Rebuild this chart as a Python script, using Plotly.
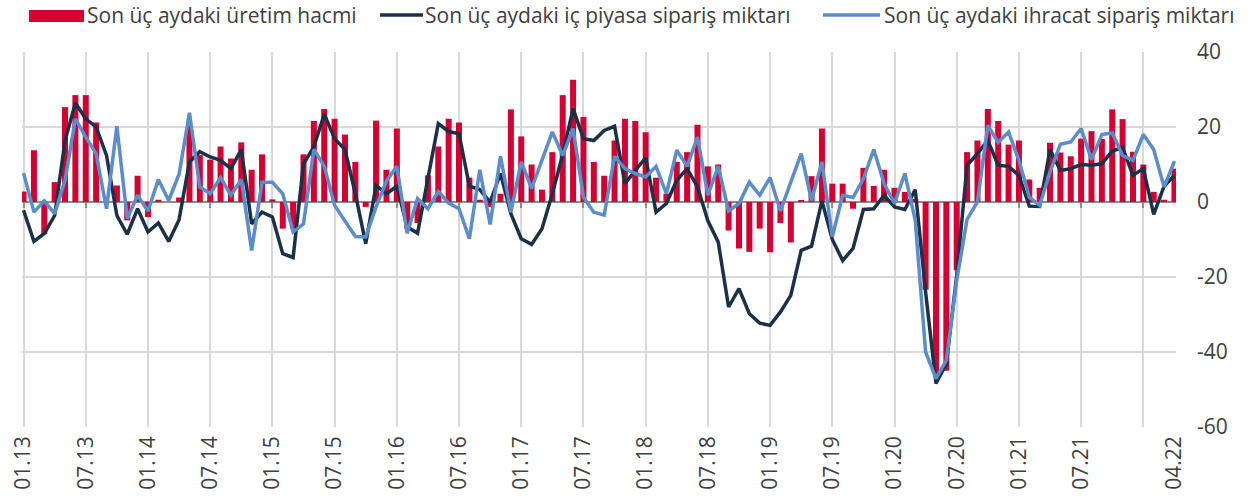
import plotly.graph_objects as go

# ---- data -------------------------------------------------------------
months = [f"{m:02d}.{y:02d}" for y in range(13, 23) for m in range(1, 13)][:112]

uretim = [2.8, 13.8, -8.6, 5.3, 25.3, 28.5, 28.5, 21.2, 0.0, 4.4, -4.9, 7.0,
          -4.0, 0.6, 0.0, 1.2, 20.4, 12.5, 11.3, 14.8, 11.6, 15.9, 8.6, 12.7,
          0.7, -7.1, -7.1, 12.7, 21.6, 24.8, 22.2, 18.0, 10.7, -1.3, 21.7, 8.6,
          19.6, -7.1, -5.6, 7.1, 14.8, 22.2, 21.2, 6.5, 0.6, -1.3, 2.2, 24.7,
          17.5, 10.0, 3.3, 13.3, 28.5, 32.6, 22.7, 10.7, 7.0, 16.4, 22.2, 21.6,
          18.6, 6.5, 2.2, 10.7, 13.3, 20.6, 9.5, 10.0, -7.6, -12.4, -13.3, -7.1,
          -13.4, -5.6, -10.8, 0.3, 6.9, 19.6, 4.9, 4.9, -1.8, 9.1, 4.3, 8.6,
          3.8, 2.7, 0.8, -23.4, -45.8, -45.0, -18.2, 13.3, 16.4, 24.8, 21.6, 15.3,
          16.4, 6.0, 3.8, 15.8, 13.2, 12.2, 16.9, 18.9, 16.8, 24.7, 22.1, 13.4,
          10.0, 2.7, 0.6, 8.9]

ic_piyasa = [-2.2, -10.5, -8.4, -3.6, 16.4, 26.4, 22.2, 20.0, 12.4, -3.6, -8.6, -1.8,
             -8.0, -5.6, -10.5, -4.7, 10.7, 13.4, 12.0, 11.1, 8.9, 14.0, -5.8, -2.7,
             -4.0, -13.8, -14.8, 10.2, 14.7, 23.4, 16.9, 14.0, 2.2, -11.1, 4.4, 2.2,
             4.2, -6.7, -8.3, 6.7, 20.9, 18.8, 18.2, 4.2, 3.3, 0.0, 7.6, -3.1,
             -9.8, -11.3, -7.1, 2.2, 12.7, 24.9, 16.9, 16.4, 19.1, 20.2, 4.9, 8.4,
             11.8, -2.7, -0.4, 5.8, 8.9, 4.0, -5.0, -10.7, -28.0, -23.1, -29.8, -32.3,
             -32.9, -29.3, -24.9, -12.9, -11.8, 0.3, -10.0, -15.6, -12.4, -2.0, -1.8, 1.8,
             -1.3, -2.0, 3.3, -24.0, -48.4, -43.1, -19.6, 9.8, 12.9, 16.4, 9.8, 9.5,
             7.1, -1.1, -1.2, 14.0, 8.4, 8.9, 10.0, 9.8, 10.2, 13.6, 14.5, 7.1,
             8.9, -3.3, 4.2, 7.1]

ihracat = [7.7, -2.7, 0.3, -3.1, 5.8, 22.2, 17.3, 12.9, -1.8, 20.2, -4.4, 1.8,
           -2.4, 6.0, 0.4, 7.4, 23.8, 4.0, 2.2, 6.5, 1.8, 6.0, -12.9, 5.3,
           5.3, 2.2, -8.0, -5.8, 14.0, 9.5, -0.9, -4.9, -9.2, -9.3, -1.3, 5.6,
           9.5, -8.3, 0.9, -1.8, 2.8, -0.3, -1.8, -9.8, 8.6, -6.0, 12.2, -2.7,
           10.7, 3.6, 11.1, 18.7, 12.4, 19.6, 1.3, -2.7, -3.5, 12.2, 8.9, 7.6,
           6.7, 9.5, 2.2, 13.8, 9.5, 17.3, 1.8, 9.5, -2.4, -0.4, 5.3, 1.8,
           6.5, -2.4, 5.3, 12.9, 0.4, 10.7, -9.3, 1.8, 1.2, 6.2, 14.0, 4.9,
           -0.4, 7.6, -4.9, -40.0, -47.1, -42.2, -20.9, -4.6, 0.0, 20.4, 15.9, 18.7,
           11.1, 1.3, -0.9, 8.0, 15.4, 16.0, 19.6, 11.3, 18.0, 18.4, 12.4, 11.1,
           18.0, 14.0, 4.0, 10.9]

tick_labels = ["01.13", "07.13", "01.14", "07.14", "01.15", "07.15", "01.16", "07.16",
               "01.17", "07.17", "01.18", "07.18", "01.19", "07.19", "01.20", "07.20",
               "01.21", "07.21", "04.22"]
grid_months = ["01.13", "07.13", "01.14", "07.14", "01.15", "07.15", "01.16", "07.16",
               "01.17", "07.17", "01.18", "07.18", "01.19", "07.19", "01.20", "07.20",
               "01.21", "07.21", "01.22"]
y_ticks = [-60, -40, -20, 0, 20, 40]

names = ["Son üç aydaki üretim hacmi",
         "Son üç aydaki iç piyasa sipariş miktarı",
         "Son üç aydaki ihracat sipariş miktarı"]

RED = "#D50032"
NAVY = "#1C3148"
BLUE = "#5B8CCB"
GRID = "#D9D9D9"
AXIS = "#8C8C8C"
TXT = "#404040"
FONT = "Open Sans"
FS = 21

# ---- figure -----------------------------------------------------------
fig = go.Figure()
fig.add_trace(go.Bar(x=months, y=uretim, name=names[0], marker_color=RED,
                     marker_line_width=0, showlegend=False))
fig.add_trace(go.Scatter(x=months, y=ic_piyasa, name=names[1], mode="lines",
                         line=dict(color=NAVY, width=3.5), showlegend=False))
fig.add_trace(go.Scatter(x=months, y=ihracat, name=names[2], mode="lines",
                         line=dict(color=BLUE, width=3.5), showlegend=False))
# helper trace so the overlay axis (grid + zero axis) is rendered
fig.add_trace(go.Scatter(x=[months.index(m) for m in grid_months],
                         y=[None] * len(grid_months), xaxis="x2",
                         showlegend=False, hoverinfo="skip"))

xr = [-0.15, len(months) - 1 + 0.15]
fig.update_layout(
    width=1258, height=504, autosize=False,
    margin=dict(l=22, r=82, t=52, b=77, autoexpand=False),
    paper_bgcolor="white", plot_bgcolor="white",
    font=dict(family=FONT, size=FS, color=TXT),
    bargap=0.42,
    xaxis=dict(type="category", range=xr, tickmode="array", automargin=False,
               tickvals=tick_labels, ticktext=tick_labels, tickangle=-90,
               showgrid=False, zeroline=False, showline=False, ticks="",
               ticklabelstandoff=4,
               tickfont=dict(family=FONT, size=FS, color=TXT)),
    xaxis2=dict(overlaying="x", anchor="free", position=0.6, type="linear",
                range=xr, tickmode="array", automargin=False,
                tickvals=[months.index(m) for m in grid_months],
                showgrid=True, gridcolor=GRID, gridwidth=1.5,
                showline=True, linecolor=AXIS, linewidth=1.5,
                ticks="outside", ticklen=5, tickwidth=1.5, tickcolor=AXIS,
                showticklabels=False, zeroline=False, layer="below traces"),
    yaxis=dict(side="right", range=[-60, 40], tickmode="array", tickvals=y_ticks,
               ticktext=[str(v) for v in y_ticks], automargin=False,
               showgrid=True, gridcolor=GRID, gridwidth=1.5, zeroline=False,
               ticks="", ticklabelstandoff=20,
               tickfont=dict(family=FONT, size=FS, color=TXT)),
)

# ---- legend (custom, top row) ----------------------------------------
leg_keys = [("rect", RED, 7, 62), ("line", NAVY, 358, 401), ("line", BLUE, 801, 858)]
leg_text_x = [64, 402, 861]
for (kind, col, x0, x1), name, tx in zip(leg_keys, names, leg_text_x):
    if kind == "rect":
        fig.add_shape(type="rect", xref="paper", yref="paper",
                      xsizemode="pixel", ysizemode="pixel", xanchor=0, yanchor=1,
                      x0=x0, x1=x1, y0=30, y1=42, fillcolor=col, line_width=0)
    else:
        fig.add_shape(type="line", xref="paper", yref="paper",
                      xsizemode="pixel", ysizemode="pixel", xanchor=0, yanchor=1,
                      x0=x0, x1=x1, y0=37, y1=37, line=dict(color=col, width=3.5))
    fig.add_annotation(text=name, xref="paper", yref="paper", x=0, y=1,
                       xshift=tx, yshift=37, xanchor="left", yanchor="middle",
                       borderpad=0, showarrow=False,
                       font=dict(family=FONT, size=FS, color=TXT))

# remove the default 8px page margin so the figure fills the window exactly
fig.write_html("out.html", config={"displayModeBar": False},
               post_script="document.body.style.margin='0px';")
